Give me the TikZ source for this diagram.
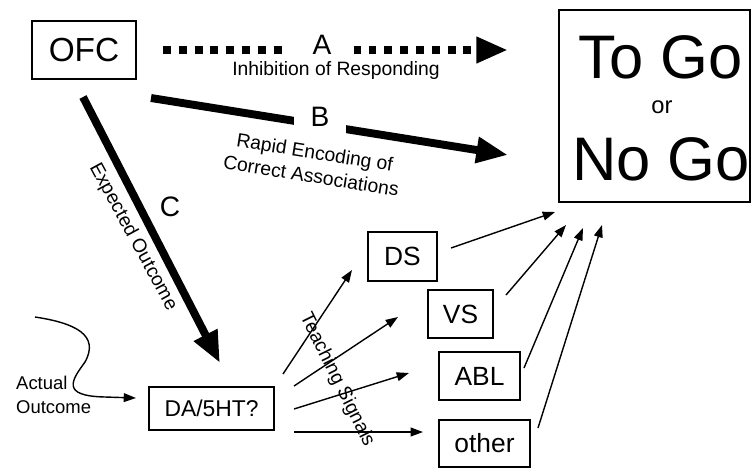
\documentclass[tikz,border=0pt]{standalone}
\usepackage{fontspec}
\setmainfont{Liberation Sans}
\usetikzlibrary{arrows.meta}
\usetikzlibrary{positioning}

\begin{document}
\begin{tikzpicture}[x=0.02cm, y=-0.02cm]
    \tikzstyle{box}=[draw, line width=0.8pt, inner sep=0pt]
    \tikzstyle{boxtext}=[font=\fontsize{15}{18}\selectfont]
    \tikzstyle{label}=[font=\fontsize{11}{13.5}\selectfont]
    \tikzstyle{letter}=[font=\fontsize{16}{19}\selectfont]
    \tikzstyle{bigarrow}=[line width=4.5pt, -{Triangle[length=18pt, width=14pt]}]
    \tikzstyle{smallarrow}=[line width=0.8pt, -{Triangle[length=7pt, width=5pt]}]
    \useasboundingbox (0, 0) rectangle (755, 468);

    % boxes
    \node[box, minimum width=2.08cm, minimum height=1.16cm, font=\fontsize{19}{22}\selectfont] (ofc) at (84, 50) {OFC};
    \node[box, minimum width=3.82cm, minimum height=3.84cm] (togo) at (654.5, 106) {};
    \node[font=\fontsize{35}{40}\selectfont] (to) at (661, 57) {To Go};
    \node[font=\fontsize{13.5}{16}\selectfont] (or) at (662, 107) {or};
    \node[font=\fontsize{35}{40}\selectfont] (no) at (661, 159) {No Go};

    \node[box, boxtext, minimum width=2.5cm, minimum height=0.86cm, font=\fontsize{13}{16}\selectfont] (da) at (211.5, 408.5) {DA/5HT?};
    \node[box, boxtext, minimum width=1.38cm, minimum height=0.98cm] (ds) at (402.5, 256.5) {DS};
    \node[box, boxtext, minimum width=1.3cm, minimum height=0.96cm] (vs) at (460.5, 314) {VS};
    \node[box, boxtext, minimum width=1.62cm, minimum height=0.96cm] (abl) at (479.5, 376) {ABL};
    \node[box, boxtext, minimum width=1.82cm, minimum height=0.94cm] (other) at (484.5, 443.5) {other};

    % end points of the arrows
    \coordinate (aStart) at (163, 50);
    \coordinate (aEnd) at (508, 50);
    \coordinate (bStart) at (151, 98);
    \coordinate (bEnd) at (508, 155);
    \coordinate (cStart) at (83, 97);
    \coordinate (cEnd) at (220, 363);
    \coordinate (actStart) at (35, 317);
    \coordinate (actEnd) at (136, 398);

    \coordinate (ts1) at (283, 374);
    \coordinate (ts2) at (294, 386);
    \coordinate (ts3) at (294, 409);
    \coordinate (ts4) at (294, 432);
    \coordinate (tsDS) at (352, 270);
    \coordinate (tsVS) at (398, 317);
    \coordinate (tsABL) at (409, 373);
    \coordinate (tsOther) at (423, 432);

    \coordinate (dsOut) at (451, 248);
    \coordinate (vsOut) at (506, 295);
    \coordinate (ablOut) at (524, 368);
    \coordinate (otherOut) at (538, 428);
    \coordinate (dsIn) at (555, 212);
    \coordinate (vsIn) at (566, 225);
    \coordinate (ablIn) at (583, 228);
    \coordinate (otherIn) at (602, 225);

    % A, B, C
    \draw[bigarrow, dash pattern=on 4.5pt off 4.5pt] (aStart) -- (aEnd);
    \node[letter, fill=white, inner xsep=13pt] (a) at (322, 45) {A};
    \draw[bigarrow] (bStart) -- (bEnd);
    \node[letter, fill=white, inner xsep=9.5pt, inner ysep=5pt] (b) at (320, 117) {B};
    \draw[bigarrow] (cStart) -- (cEnd);
    \node[letter] (c) at (170, 207) {C};

    \node[label] (inhib) at (336, 70) {Inhibition of Responding};
    \node[label, align=center, rotate=-9] (rapid) at (313, 164) {Rapid Encoding of\\Correct Associations};
    \node[label, rotate=-61.5] (expected) at (133, 237) {Expected Outcome};

    % actual outcome
    \node[font=\fontsize{10.5}{13.5}\selectfont, align=left, anchor=west] (actual) at (10, 395) {Actual\\Outcome};
    \draw[smallarrow] (actStart) .. controls (75, 323) and (100, 335) .. (85, 362)
        .. controls (72, 380) and (60, 396) .. (105, 397) -- (actEnd);

    % teaching signals
    \draw[smallarrow] (ts1) -- (tsDS);
    \draw[smallarrow] (ts2) -- (tsVS);
    \draw[smallarrow] (ts3) -- (tsABL);
    \draw[smallarrow] (ts4) -- (tsOther);
    \node[label, rotate=-63.6] (teaching) at (337, 380) {Teaching Signals};

    % to go or no go
    \draw[smallarrow] (dsOut) -- (dsIn);
    \draw[smallarrow] (vsOut) -- (vsIn);
    \draw[smallarrow] (ablOut) -- (ablIn);
    \draw[smallarrow] (otherOut) -- (otherIn);
\end{tikzpicture}
\end{document}
